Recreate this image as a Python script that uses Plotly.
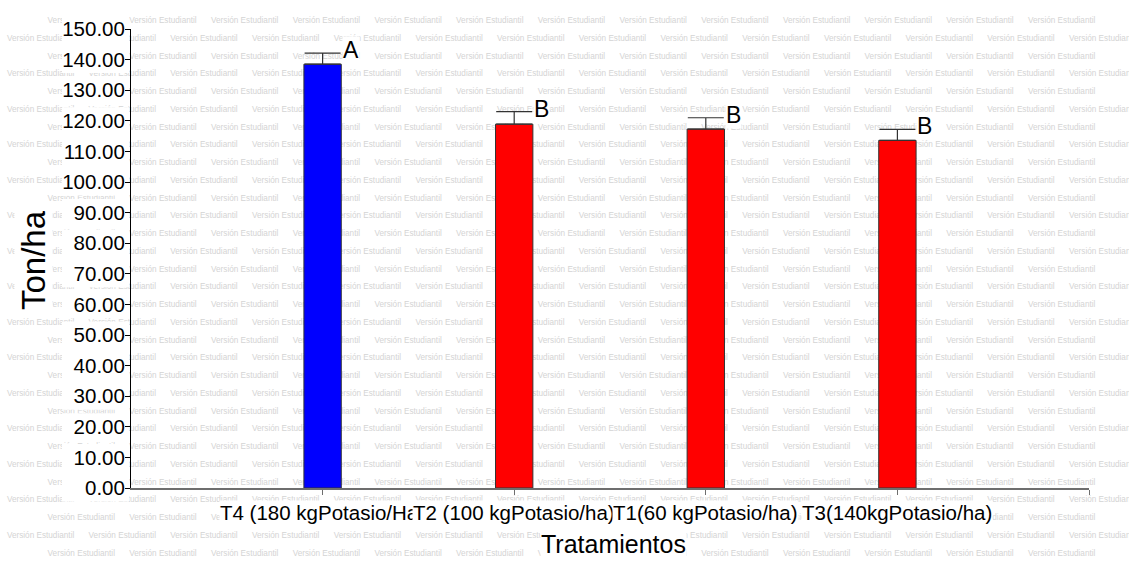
import plotly.graph_objects as go

# ---- data -------------------------------------------------------------
categories = [
    "T4 (180 kgPotasio/Ha)",
    "T2 (100 kgPotasio/ha)",
    "T1(60 kgPotasio/ha)",
    "T3(140kgPotasio/ha)",
]
means = [138.5, 118.9, 117.3, 113.6]        # Ton/ha
errors = [3.6, 4.1, 3.7, 3.6]               # upper error bar
letters = ["A", "B", "B", "B"]              # mean comparison groups
bar_colors = ["#0000FF", "#FF0000", "#FF0000", "#FF0000"]
y_ticks = list(range(0, 151, 10))
y_title = "Ton/ha"
x_title = "Tratamientos"
watermark = "Versión Estudiantil"

# ---- page geometry (pixels) -------------------------------------------
W, H = 1129, 568
L, R, T, B = 131, 1089, 29, 488            # plot area edges
SANS = "Liberation Sans, Arial, sans-serif"
n = len(categories)
y_max = 150

fig = go.Figure()

# ---- background watermark on a full-page pixel subplot ----------------
period, row_h = 81.7, 17.75
wm_x, wm_y = [], []
for r in range(32):
    yy = 21 + r * row_h
    x0 = (47.3 if r % 2 == 0 else 6.6) - period
    while x0 < W:
        wm_x.append(x0 + 34)
        wm_y.append(yy)
        x0 += period
fig.add_trace(go.Scatter(
    x=wm_x, y=wm_y, mode="text", text=[watermark] * len(wm_x),
    textposition="middle center",
    textfont=dict(family=SANS, size=8.2, color="#d4d4d4"),
    hoverinfo="skip", showlegend=False, cliponaxis=False,
    xaxis="x", yaxis="y",
))

# white boxes behind the value-axis labels
def y_px(v):
    return T + (y_max - v) / y_max * (B - T)

bx, by = [], []
for t in y_ticks:
    top, bot = y_px(t) - 13.5, y_px(t) + 13.5
    bx += [62, 129, 129, 62, 62, None]
    by += [top, top, bot, bot, top, None]
fig.add_trace(go.Scatter(
    x=bx, y=by, mode="lines", fill="toself", fillcolor="white",
    line=dict(width=0, color="white"), hoverinfo="skip",
    showlegend=False, xaxis="x", yaxis="y",
))

# ---- bars with upper error bars ---------------------------------------
fig.add_trace(go.Bar(
    x=list(range(n)), y=means, width=0.195,
    marker=dict(color=bar_colors, line=dict(color="#333333", width=1)),
    error_y=dict(type="data", array=errors, arrayminus=[0] * n,
                 symmetric=False, color="#333333", thickness=1.2, width=18),
    hoverinfo="skip", showlegend=False, xaxis="x2", yaxis="y2",
))

annotations = []
# group letters beside the error caps
for i in range(n):
    annotations.append(dict(
        x=i, y=means[i] + errors[i], xref="x2", yref="y2",
        text=letters[i], showarrow=False, xanchor="left", yanchor="middle",
        xshift=19, yshift=3, bgcolor="white", borderpad=0,
        font=dict(family=SANS, size=23, color="black"),
    ))
# category labels (each drawn with a white box over its neighbour)
for i, c in enumerate(categories):
    annotations.append(dict(
        x=i, y=1 - 512 / H, xref="x2", yref="paper", text=c,
        showarrow=False, xanchor="center", yanchor="middle",
        bgcolor="white", borderpad=0,
        font=dict(family=SANS, size=20.5, color="black"),
    ))
# axis titles
annotations.append(dict(
    x=33 / W, y=1 - 260 / H, xref="paper", yref="paper", text=y_title,
    textangle=-90, showarrow=False, xanchor="center", yanchor="middle",
    bgcolor="white", borderpad=0,
    font=dict(family=SANS, size=33, color="black"),
))
annotations.append(dict(
    x=613 / W, y=1 - 544 / H, xref="paper", yref="paper", text=x_title,
    showarrow=False, xanchor="center", yanchor="middle",
    bgcolor="white", borderpad=0,
    font=dict(family=SANS, size=25, color="black"),
))

fig.update_layout(
    width=W, height=H,
    margin=dict(l=0, r=0, t=0, b=0, pad=0, autoexpand=False),
    paper_bgcolor="white", plot_bgcolor="rgba(0,0,0,0)",
    showlegend=False,
    xaxis=dict(domain=[0, 1], range=[0, W], visible=False,
               fixedrange=True, automargin=False),
    yaxis=dict(domain=[0, 1], range=[H, 0], visible=False,
               fixedrange=True, automargin=False),
    xaxis2=dict(
        domain=[L / W, R / W], range=[-1, n], anchor="y2",
        showline=True, linecolor="#6e6e6e", linewidth=2,
        ticks="outside", ticklen=5, tickcolor="#6e6e6e", tickwidth=1,
        tickvals=list(range(n + 1)), showticklabels=False,
        showgrid=False, zeroline=False, fixedrange=True, automargin=False,
    ),
    yaxis2=dict(
        domain=[1 - B / H, 1 - T / H], range=[0, y_max], anchor="x2",
        showline=True, linecolor="black", linewidth=1,
        ticks="outside", ticklen=5, tickcolor="black",
        tickvals=y_ticks, tickformat=".2f", ticklabelstandoff=-4,
        tickfont=dict(family=SANS, size=20.5, color="black"),
        showgrid=False, zeroline=False, fixedrange=True, automargin=False,
    ),
    annotations=annotations,
)

fig.write_html("out.html")
